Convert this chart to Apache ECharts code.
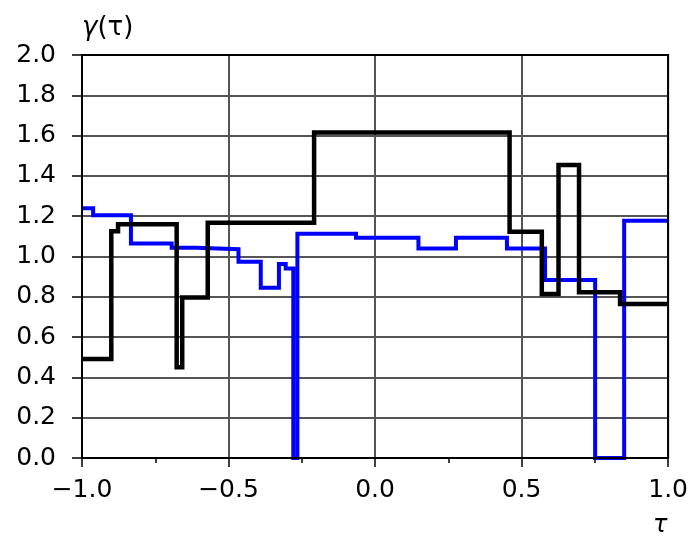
<!DOCTYPE html>
<html>
<head>
<meta charset="utf-8">
<script src="https://cdn.jsdelivr.net/npm/echarts@6/dist/echarts.min.js"></script>
<style>
html,body{margin:0;padding:0;background:#fff;}
#chart{width:691px;height:545px;}
</style>
</head>
<body>
<div id="chart"></div>
<script>
// Step function data: edges (tau) and the value held on each interval
var blueEdges = [-1.0, -0.962, -0.833, -0.694, -0.611, -0.466, -0.390, -0.328, -0.305, -0.279, -0.265, -0.065, 0.148, 0.276, 0.450, 0.580, 0.751, 0.850, 1.0];
var blueValues = [1.24, 1.205, 1.065, 1.044, 1.036, 0.974, 0.845, 0.963, 0.940, 0.0, 1.113, 1.093, 1.040, 1.093, 1.040, 0.883, 0.0, 1.178];

var blackEdges = [-1.0, -0.900, -0.877, -0.677, -0.658, -0.571, -0.208, 0.459, 0.569, 0.626, 0.696, 0.836, 1.0];
var blackValues = [0.491, 1.125, 1.160, 0.450, 0.797, 1.168, 1.615, 1.123, 0.814, 1.454, 0.822, 0.764];

var xTicks = [-1.0, -0.5, 0.0, 0.5, 1.0];
var yTicks = [0.0, 0.2, 0.4, 0.6, 0.8, 1.0, 1.2, 1.4, 1.6, 1.8, 2.0];

function stepPoints(edges, values) {
  var pts = [];
  for (var i = 0; i < values.length; i++) {
    pts.push([edges[i], values[i]]);
    pts.push([edges[i + 1], values[i]]);
  }
  return pts;
}

var FONT = 'DejaVu Sans';
var chart = echarts.init(document.getElementById('chart'), null, {renderer: 'canvas'});
chart.setOption({
  animation: false,
  backgroundColor: '#fff',
  grid: {
    left: 82, right: 22, top: 55, bottom: 87,
    show: true, borderColor: '#000', borderWidth: 2,
    backgroundColor: 'transparent', z: 10
  },
  xAxis: {
    type: 'value',
    min: xTicks[0], max: xTicks[xTicks.length - 1], interval: 0.5,
    axisLine: {show: true, onZero: false, lineStyle: {color: '#000', width: 2}},
    axisTick: {show: true, inside: false, length: 9, lineStyle: {color: '#000', width: 1.5}},
    minorTick: {show: true, splitNumber: 2, length: 5, lineStyle: {color: '#000', width: 1.5}},
    splitLine: {show: true, lineStyle: {color: '#555555', width: 2}},
    axisLabel: {
      color: '#000', fontFamily: FONT, fontSize: 25, margin: 20,
      formatter: function (v) { return v.toFixed(1).replace('-', '\u2212'); }
    }
  },
  yAxis: {
    type: 'value',
    min: yTicks[0], max: yTicks[yTicks.length - 1], interval: 0.2,
    axisLine: {show: true, onZero: false, lineStyle: {color: '#000', width: 2}},
    axisTick: {show: true, inside: false, length: 10, lineStyle: {color: '#000', width: 1.5}},
    splitLine: {show: true, lineStyle: {color: '#555555', width: 2}},
    axisLabel: {
      color: '#000', fontFamily: FONT, fontSize: 25, margin: 26,
      formatter: function (v) { return v.toFixed(1); }
    }
  },
  graphic: [
    {
      type: 'text',
      left: 82, top: 15,
      style: {
        text: '{i|\u03b3}(\u03c4)',
        fontFamily: FONT, fontSize: 26, fill: '#000',
        rich: {i: {fontFamily: FONT, fontSize: 26, fontStyle: 'italic', fill: '#000'}}
      }
    },
    {
      type: 'text',
      left: 653, top: 514,
      style: {text: '\u03c4', fontFamily: FONT, fontSize: 24, fontStyle: 'italic', fill: '#000'}
    }
  ],
  series: [
    {
      type: 'line', name: 'blue', data: stepPoints(blueEdges, blueValues),
      showSymbol: false, symbol: 'none',
      lineStyle: {color: '#0000ff', width: 4, join: 'miter'},
      itemStyle: {color: '#0000ff'}, z: 2
    },
    {
      type: 'line', name: 'black', data: stepPoints(blackEdges, blackValues),
      showSymbol: false, symbol: 'none',
      lineStyle: {color: '#000000', width: 4.5, join: 'miter'},
      itemStyle: {color: '#000'}, z: 3
    }
  ]
});
</script>
</body>
</html>
